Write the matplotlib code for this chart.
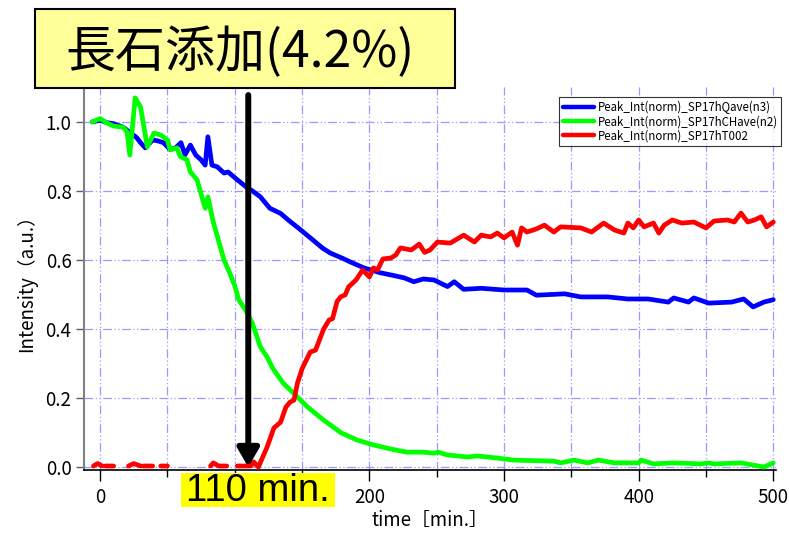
"""Normalized peak intensity vs time, feldspar addition (4.2%)."""

import matplotlib
matplotlib.use("Agg")
import matplotlib.pyplot as plt
import numpy as np
from matplotlib.patches import Rectangle

plt.rcParams["font.family"] = ["Noto Sans CJK JP", "DejaVu Sans"]

# --- data ------------------------------------------------------------------
t_qave = [-6, 0, 5, 10, 17, 22, 27, 30, 33.5, 39, 43, 47, 52, 56, 60, 63, 67, 71,
          75, 78, 80, 83, 87, 92, 95, 102, 109, 112, 119, 126, 134, 140, 149, 158,
          165, 171, 180, 186, 196, 208, 218, 226, 233, 240, 248, 258, 263, 270,
          283, 300, 317, 324, 335, 345, 357, 377, 392, 407, 422, 426, 437, 441,
          452, 469, 478, 485, 493, 500]
y_qave = [1.0, 1.005, 0.998, 0.995, 0.985, 0.97, 0.955, 0.94, 0.925, 0.948, 0.945,
          0.94, 0.92, 0.925, 0.94, 0.905, 0.933, 0.904, 0.89, 0.875, 0.957, 0.875,
          0.87, 0.852, 0.855, 0.832, 0.81, 0.803, 0.783, 0.75, 0.735, 0.715, 0.687,
          0.658, 0.635, 0.62, 0.605, 0.594, 0.577, 0.563, 0.555, 0.548, 0.537,
          0.545, 0.542, 0.523, 0.537, 0.515, 0.518, 0.513, 0.513, 0.498, 0.5,
          0.502, 0.493, 0.493, 0.487, 0.487, 0.478, 0.49, 0.478, 0.49, 0.475,
          0.478, 0.487, 0.464, 0.478, 0.485]

t_chave = [-6, 0, 5, 10, 17, 20, 22, 26, 30, 35, 40, 45, 50, 52, 57, 59.5, 64.5,
           67, 72, 78, 80, 84, 92, 97, 100, 103, 108, 113, 119, 124, 128, 136,
           146.5, 154, 166, 179, 191, 203, 216, 228, 240, 248, 251, 258, 273, 280,
           295, 307, 337, 342, 352, 362, 370, 382, 400, 402, 411, 426, 446, 452,
           456, 476, 493, 500]
y_chave = [1.0, 1.01, 0.997, 0.988, 0.985, 0.971, 0.904, 1.07, 1.043, 0.928, 0.968,
           0.962, 0.948, 0.919, 0.925, 0.9, 0.89, 0.855, 0.832, 0.75, 0.783, 0.71,
           0.6, 0.555, 0.525, 0.484, 0.455, 0.417, 0.348, 0.319, 0.287, 0.243,
           0.203, 0.174, 0.136, 0.099, 0.078, 0.064, 0.052, 0.043, 0.043, 0.04,
           0.043, 0.035, 0.029, 0.032, 0.026, 0.02, 0.017, 0.012, 0.02, 0.012,
           0.02, 0.012, 0.012, 0.02, 0.009, 0.012, 0.009, 0.012, 0.009, 0.012,
           0.0, 0.012]

nan = np.nan
t_t002 = [-5, -2, 1.5, nan, 4, 10, nan, 21, 25, 30, nan, 32, 39, nan, 45, 50, nan,
          82, 84, 88, 94, nan, 102, 108, 112, 114, 117.5, 124, 129, 134, 138, 141,
          144, 146.5, 150, 156, 160, 166, 170, 172.6, 176, 178.6, 182, 184.5, 190,
          195, 200, 203, 206, 210, 216, 219.5, 223, 231, 237, 241, 245, 250.5, 260,
          270, 278, 283, 290, 295, 300, 306, 310, 313, 317, 324, 330, 337, 342,
          357, 365, 374, 382, 389, 392, 396, 400, 404, 411, 415, 419, 425, 432,
          441, 450, 456, 466, 471, 476, 481, 486, 491, 495, 500]
y_t002 = [0.003, 0.01, 0.003, nan, 0.003, 0.003, nan, 0.003, 0.01, 0.003, nan,
          0.003, 0.003, nan, 0.003, 0.003, nan, 0.003, 0.012, 0.003, 0.003, nan,
          0.003, 0.003, 0.003, 0.015, 0.0, 0.058, 0.113, 0.13, 0.174, 0.188,
          0.194, 0.243, 0.285, 0.333, 0.339, 0.4, 0.426, 0.43, 0.48, 0.493, 0.499,
          0.522, 0.542, 0.571, 0.551, 0.577, 0.571, 0.603, 0.606, 0.614, 0.635,
          0.629, 0.646, 0.622, 0.629, 0.652, 0.649, 0.672, 0.652, 0.672, 0.667,
          0.678, 0.664, 0.681, 0.643, 0.693, 0.681, 0.69, 0.701, 0.681, 0.696,
          0.693, 0.681, 0.707, 0.687, 0.678, 0.707, 0.693, 0.716, 0.696, 0.707,
          0.678, 0.701, 0.716, 0.707, 0.71, 0.693, 0.713, 0.716, 0.71, 0.736,
          0.71, 0.716, 0.725, 0.696, 0.71]

series_labels = ["Peak_Int(norm)_SP17hQave(n3)", "Peak_Int(norm)_SP17hCHave(n2)",
                 "Peak_Int(norm)_SP17hT002"]
series_colors = ["#0000ff", "#00ff00", "#ff0000"]

x_ticks = [0, 100, 200, 300, 400, 500]
# the "100" label sits under the yellow "110 min." box in the reference
x_ticklabels = ["0", "", "200", "300", "400", "500"]

title_text = "長石添加(4.2%)"
addition_time = 110
addition_label = "110 min."

# --- figure ----------------------------------------------------------------
fig = plt.figure(figsize=(7.89, 5.33), dpi=100)
ax = fig.add_axes([0.1065, 0.1173, 0.877, 0.7186])

for t, y, c, lab in zip([t_qave, t_chave, t_t002], [y_qave, y_chave, y_t002],
                        series_colors, series_labels):
    ax.plot(t, y, color=c, linewidth=3.4, label=lab, solid_capstyle="round",
            solid_joinstyle="round", zorder=3)

ax.set_xlim(-12, 502)
ax.set_ylim(-0.01, 1.1)
ax.set_xticks(x_ticks)
ax.set_xticklabels(x_ticklabels)
ax.set_xticks(np.arange(50, 501, 100), minor=True)
ax.set_yticks(np.arange(0, 1.01, 0.2))
ax.yaxis.set_major_formatter(plt.FuncFormatter(lambda v, p: f"{v:.1f}"))

grid_kw = dict(color="#9a9aff", linewidth=0.9, linestyle=(0, (7, 2, 1, 2, 1, 2)))
ax.grid(True, which="major", **grid_kw)
ax.grid(True, which="minor", axis="x", **grid_kw)
ax.set_axisbelow(True)

for side in ["top", "right"]:
    ax.spines[side].set_visible(False)
ax.spines["left"].set_color("#808080")
ax.spines["left"].set_linewidth(1.5)
ax.spines["bottom"].set_color("#000000")
ax.spines["bottom"].set_linewidth(1.2)

ax.tick_params(axis="x", which="major", direction="out", length=8, width=1,
               labelsize=13.5, pad=4, colors="black")
ax.tick_params(axis="x", which="minor", direction="out", length=5, width=1)
ax.tick_params(axis="y", direction="out", length=6, width=1, labelsize=13.5,
               pad=3, color="#606060")

ax.set_xlabel("time［min.］", fontsize=13.5, labelpad=1)
ax.set_ylabel("Intensity（a.u.）", fontsize=13.5, labelpad=6)

ax.annotate("", xy=(addition_time, 0), xytext=(addition_time, 1.078),
            arrowprops=dict(arrowstyle="-|>,head_length=0.55,head_width=0.32",
                            color="black", lw=4.3, mutation_scale=20,
                            shrinkA=0, shrinkB=0),
            zorder=6)

leg = ax.legend(loc="upper right", bbox_to_anchor=(781 / 789, 1 - 97 / 533),
                bbox_transform=fig.transFigure, fontsize=8.3, frameon=True,
                fancybox=False, borderaxespad=0, handlelength=2.7,
                handletextpad=0.3, borderpad=0.3, labelspacing=0.12)
leg.get_frame().set_edgecolor("black")
leg.get_frame().set_linewidth(0.8)
for line in leg.get_lines():
    line.set_linewidth(3.2)

# title box
fig.patches.append(Rectangle((35 / 789, 1 - 88 / 533), 420 / 789, 79 / 533,
                             transform=fig.transFigure, facecolor="#ffff99",
                             edgecolor="black", linewidth=1.5, zorder=10))
fig.text(240 / 789, 1 - 53 / 533, title_text, fontsize=36, ha="center",
         va="center", zorder=11)

# addition time label
fig.patches.append(Rectangle((181 / 789, 1 - 507 / 533), 154 / 789, 34 / 533,
                             transform=fig.transFigure, facecolor="#ffff00",
                             edgecolor="none", zorder=10))
fig.text(258 / 789, 1 - 491 / 533, addition_label, fontsize=27.5, ha="center",
         va="center", family=["Liberation Sans", "DejaVu Sans"], zorder=11)

fig.savefig("out.png", dpi=100)
